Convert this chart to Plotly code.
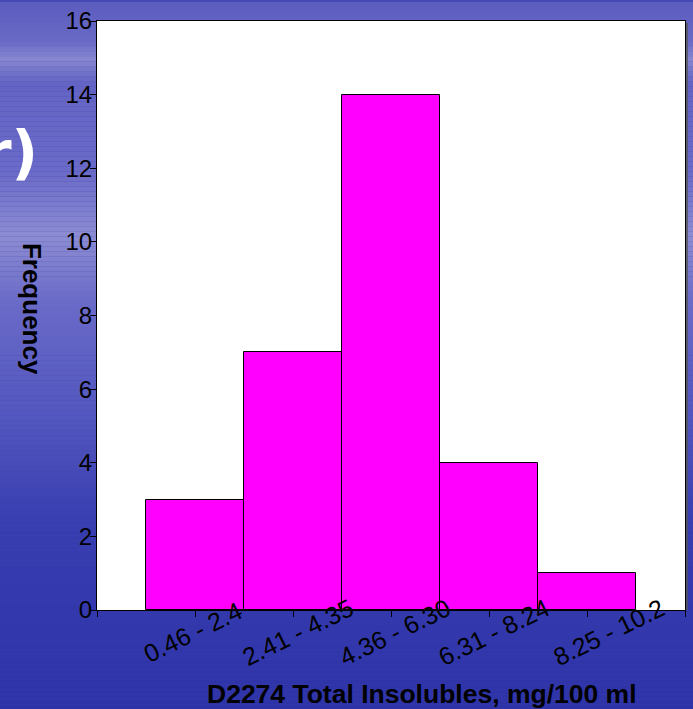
import plotly.graph_objects as go

# ---- data ----
categories = ["0.46 - 2.4", "2.41 - 4.35", "4.36 - 6.30", "6.31 - 8.24", "8.25 - 10.2"]
frequency = [3, 7, 14, 4, 1]
y_ticks = [0, 2, 4, 6, 8, 10, 12, 14, 16]
x_title = "D2274 Total Insolubles, mg/100 ml"
y_title = "Frequency"

positions = list(range(1, len(categories) + 1))

W, H = 693, 709
ML, MR, MT, MB = 97, 7, 19, 99
PW = W - ML - MR
PH = H - MT - MB

fig = go.Figure()
fig.add_trace(go.Bar(
    x=positions, y=frequency, width=1,
    marker=dict(color="#FF00FF", line=dict(color="black", width=1)),
    hoverinfo="y",
))

# background gradient (slide texture approximation)
stops = [(0, (92, 92, 190)), (40, (105, 105, 198)), (58, (135, 135, 208)), (80, (100, 100, 196)),
         (170, (106, 106, 200)), (235, (140, 140, 210)), (300, (106, 106, 200)),
         (420, (82, 86, 190)), (520, (56, 62, 176)), (709, (46, 52, 168))]

def col_at(py):
    for (a, ca), (b, cb) in zip(stops[:-1], stops[1:]):
        if a <= py <= b:
            t = (py - a) / (b - a)
            return tuple(int(round(ca[i] + (cb[i] - ca[i]) * t)) for i in range(3))
    return stops[-1][1]

def px2py(p):
    return 1 - (p - MT) / PH

shapes = []
step = 5
for p in range(0, H, step):
    c = col_at(p + step / 2)
    shapes.append(dict(type="rect", xref="paper", yref="paper", layer="below",
                       x0=-0.3, x1=1.2, y0=px2py(p + step), y1=px2py(p),
                       line=dict(width=0), fillcolor="rgb(%d,%d,%d)" % c))
shapes.append(dict(type="rect", xref="paper", yref="paper", layer="below",
                   x0=0, x1=1, y0=0, y1=1, line=dict(width=0), fillcolor="white"))
# right shadow of the frame
sx = 1 + 2.0 / PW
shapes.append(dict(type="line", xref="paper", yref="paper", x0=sx, x1=sx, y0=0, y1=1 - 2.0 / PH,
                   line=dict(color="#555555", width=1.5)))

# rotated category labels (small horizontal nudges as in the reference)
label_nudge = [-2, 5, 4, 5, 22]
annotations = []
for pos, lab, dx in zip(positions, categories, label_nudge):
    annotations.append(dict(x=pos, y=0, xref="x", yref="y", text=lab, showarrow=False,
                            textangle=-26, xanchor="center", yanchor="middle",
                            xshift=dx, yshift=-22,
                            font=dict(family="Liberation Sans, Arial", size=25, color="black")))
annotations.append(dict(x=(423 - ML) / PW, y=px2py(694), xref="paper", yref="paper",
                        text="<b>%s</b>" % x_title, showarrow=False,
                        xanchor="center", yanchor="middle",
                        font=dict(family="Liberation Sans, Arial", size=26.5, color="black")))
annotations.append(dict(x=(32 - ML) / PW, y=px2py(308), xref="paper", yref="paper",
                        text="<b>%s</b>" % y_title, showarrow=False, textangle=90,
                        xanchor="center", yanchor="middle",
                        font=dict(family="Liberation Sans, Arial", size=26, color="black")))
annotations.append(dict(x=(40 - ML) / PW, y=px2py(151), xref="paper", yref="paper",
                        text="<b>r)</b>", showarrow=False, xanchor="right", yanchor="middle",
                        font=dict(family="DejaVu Sans", size=58, color="white")))

fig.update_layout(
    width=W, height=H,
    margin=dict(l=ML, r=MR, t=MT, b=MB, pad=0),
    paper_bgcolor="rgb(70,72,180)",
    plot_bgcolor="white",
    showlegend=False,
    bargap=0,
    shapes=shapes,
    annotations=annotations,
    xaxis=dict(range=[0, len(categories) + 1], tickvals=list(range(0, len(categories) + 2)),
               showticklabels=False, ticks="outside", ticklen=6, tickcolor="black",
               showline=True, linecolor="black", linewidth=1, mirror=True,
               showgrid=False, zeroline=False, fixedrange=True),
    yaxis=dict(range=[0, 16], tickvals=y_ticks, ticks="outside", ticklen=6, tickcolor="black",
               showline=True, linecolor="black", linewidth=1, mirror=True,
               showgrid=False, zeroline=False, fixedrange=True, ticklabelstandoff=-7,
               tickfont=dict(family="Liberation Sans, Arial", size=24, color="black")),
)

fig.write_html("out.html", include_plotlyjs=True, config={"displayModeBar": False})
